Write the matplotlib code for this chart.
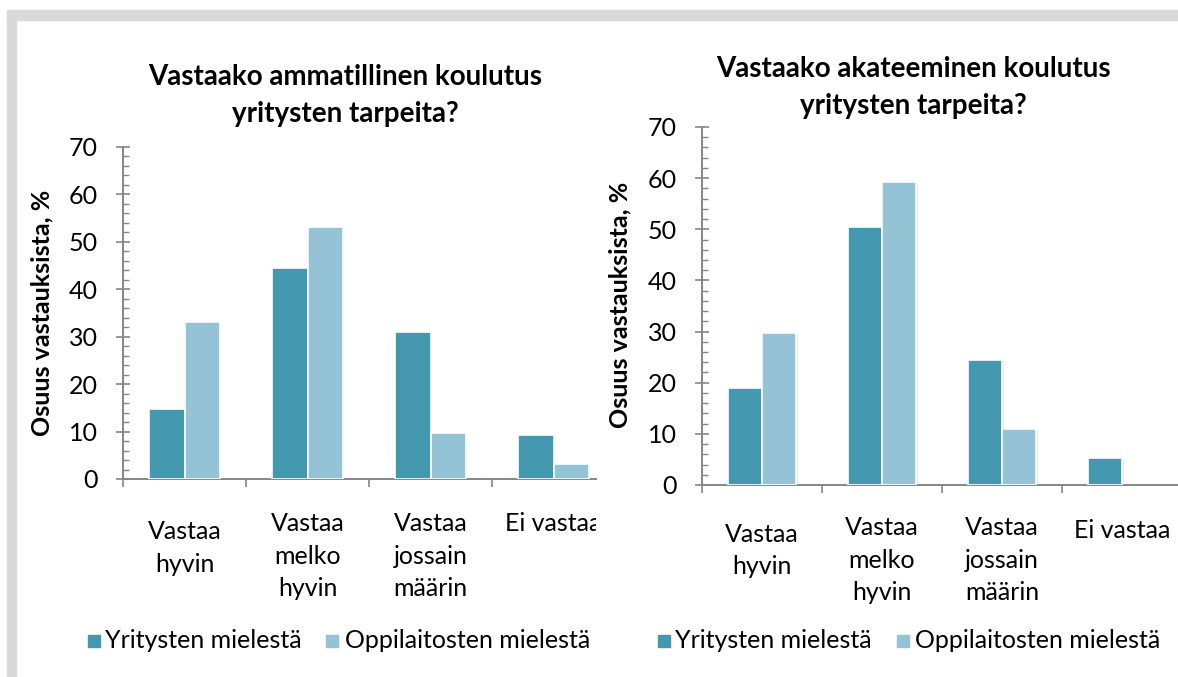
import matplotlib
matplotlib.use("Agg")
import matplotlib.pyplot as plt
from matplotlib.patches import Rectangle
import matplotlib.patheffects as pe
import matplotlib.transforms as mtransforms
import numpy as np

plt.rcParams['font.family'] = ['Lato', 'DejaVu Sans']

categories = ["Vastaa\nhyvin", "Vastaa\nmelko\nhyvin", "Vastaa\njossain\nmäärin", "Ei vastaa"]
series_names = ["Yritysten mielestä", "Oppilaitosten mielestä"]
amm_yritys = [14.8, 44.5, 31.0, 9.3]
amm_oppilaitos = [33.1, 53.2, 9.8, 3.1]
aka_yritys = [19.0, 50.4, 24.5, 5.2]
aka_oppilaitos = [29.7, 59.2, 10.9, 0.0]
title_left = "Vastaako ammatillinen koulutus\nyritysten tarpeita?"
title_right = "Vastaako akateeminen koulutus\nyritysten tarpeita?"
ylabel = "Osuus vastauksista, %"

DARK = "#4398B0"
LIGHT = "#93C3D5"
AXC = "#868686"

W, H = 1178, 677
fig = plt.figure(figsize=(W / 100, H / 100), dpi=100)
fig.patch.set_facecolor("white")

def fx(p):
    return p / W

def fy(p):
    return 1 - p / H

# frame bands
fig.patches.append(Rectangle((fx(7), fy(677)), fx(9) - fx(0), fy(19) - fy(677),
                             transform=fig.transFigure, color="#d9d9d9", zorder=0))
fig.patches.append(Rectangle((fx(7), fy(19.5)), 1, fy(10) - fy(19.5),
                             transform=fig.transFigure, color="#d9d9d9", zorder=0))

FS = 18
bw = 0.285

def make_chart(x0, x1, xmax, y0, y70, yv, ov, title, tx, ty, ylx, yly, label_y, leg):
    ax = fig.add_axes([fx(x0), fy(y0), fx(x1) - fx(x0), fy(y70) - fy(y0)])
    ax.set_facecolor("none")
    x = np.arange(len(categories))
    shadow = [pe.SimplePatchShadow(offset=(1.2, -1.2), shadow_rgbFace="#aaaaaa", alpha=0.25), pe.Normal()]
    b1 = ax.bar(x - bw / 2, yv, bw, color=DARK, edgecolor="white", linewidth=1.2, zorder=3)
    b2 = ax.bar(x + bw / 2, ov, bw, color=LIGHT, edgecolor="white", linewidth=1.2, zorder=3)
    for b in list(b1) + list(b2):
        if b.get_height() > 0:
            b.set_path_effects(shadow)
        else:
            b.set_visible(False)
    for s in ["top", "right"]:
        ax.spines[s].set_visible(False)
    for s in ["left", "bottom"]:
        ax.spines[s].set_color(AXC)
        ax.spines[s].set_linewidth(1.4)
    ax.set_yticks(np.arange(0, 71, 10))
    ax.set_yticks(np.arange(0, 71, 2), minor=True)
    ax.tick_params(axis="y", which="major", direction="inout", length=10, width=1.2,
                   color=AXC, labelsize=FS, pad=13)
    ax.tick_params(axis="y", which="minor", direction="in", length=4, width=1.0, color=AXC)
    ax.set_xticks(np.arange(-0.5, 4.0, 1.0))
    ax.set_xticklabels([])
    ax.tick_params(axis="x", which="major", direction="out", length=6, width=1.2, color=AXC)
    ax.set_ylim(0, 70)
    ax.set_xlim(-0.5, xmax)
    # category labels
    trans = mtransforms.blended_transform_factory(ax.transData, fig.transFigure)
    for i, c in enumerate(categories):
        t = ax.text(i, fy(label_y[i]), c, transform=trans, ha="center", va="top",
                    fontsize=FS, linespacing=1.5, clip_on=False)
        t.set_clip_box(mtransforms.TransformedBbox(
            mtransforms.Bbox.from_extents(0, 0, x1 / W, 1), fig.transFigure))
        t.set_clip_on(True)
    fig.text(fx(tx), fy(ty), title, ha="center", va="center", fontsize=FS + 2,
             fontweight="bold", linespacing=1.5)
    fig.text(fx(ylx), fy(yly), ylabel, ha="center", va="center", rotation=90,
             fontsize=FS, fontweight="bold")
    # legend
    ly = leg[0]
    for (sx, tx2), col, name in zip(leg[1], [DARK, LIGHT], series_names):
        fig.patches.append(Rectangle((fx(sx), fy(ly + 6)), fx(12), fy(0) - fy(12),
                                     transform=fig.transFigure, color=col))
        fig.text(fx(tx2), fy(ly), name, ha="left", va="center", fontsize=FS)
    return ax

make_chart(123, 596, -0.5 + (596 - 123) / 123, 479, 147, amm_yritys, amm_oppilaitos,
           title_left, 345, 95.5, 42, 313, [520, 512, 512, 512],
           (641, [(88, 105), (326, 345)]))
make_chart(702, 1182, 3.5, 485, 127, aka_yritys, aka_oppilaitos,
           title_right, 913, 87.5, 620, 305, [523, 516, 516, 519],
           (641, [(658, 675), (897, 915)]))

fig.savefig("out.png", dpi=100)
